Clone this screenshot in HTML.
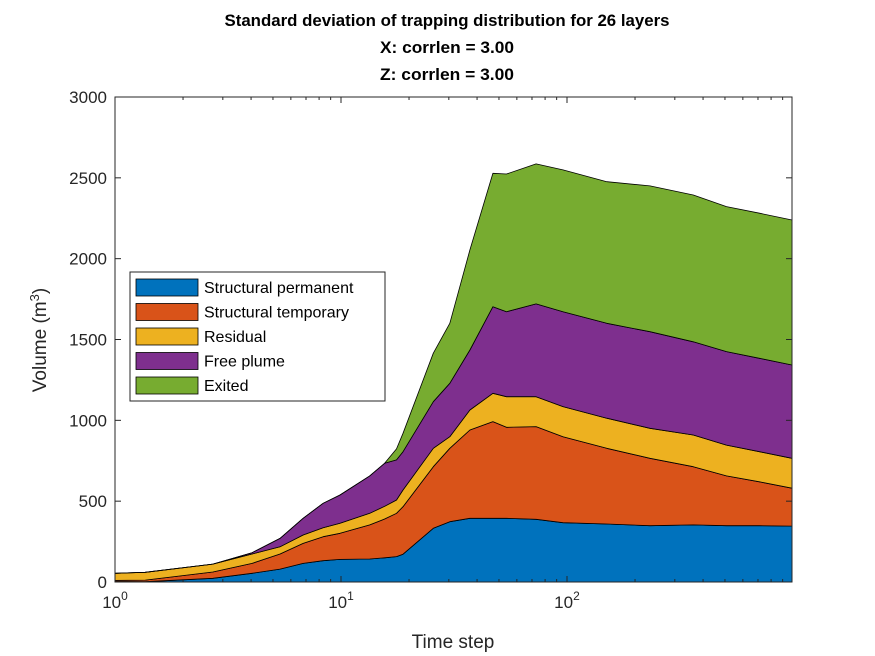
<!DOCTYPE html>
<html><head><meta charset="utf-8"><style>
body{margin:0;background:#fff}
svg{display:block;font-family:"Liberation Sans",Arial,sans-serif}
</style></head><body>
<svg id="chart" width="875" height="656" viewBox="0 0 875 656">
<rect width="875" height="656" fill="#fff"/>
<g font-weight="bold" font-size="17" text-anchor="middle" fill="#000">
<text x="447" y="26" textLength="445" lengthAdjust="spacingAndGlyphs">Standard deviation of trapping distribution for 26 layers</text>
<text x="447" y="53" textLength="134" lengthAdjust="spacingAndGlyphs">X: corrlen = 3.00</text>
<text x="447" y="80" textLength="134" lengthAdjust="spacingAndGlyphs">Z: corrlen = 3.00</text>
</g>
<g id="areas"></g>
<g id="axes"></g>
<text x="453" y="648" font-size="19" text-anchor="middle" fill="#262626">Time step</text>
<text transform="translate(46,340) rotate(-90)" font-size="19" text-anchor="middle" fill="#262626">Volume (m<tspan dy="-7" font-size="13">3</tspan><tspan dy="7">)</tspan></text>
<g id="legend"></g>
</svg>
<script>
const timeSteps = [1,1.36,2.71,4.04,5.37,6.8,8.33,9.9,13.4,15.6,17.6,18.8,25.6,30.3,37.2,47,54,73,96,150,233,362,508,711,990];
const structuralPermanent = [3,2,23,54,80,115,132,140,142,150,157,172,332,373,394,394,394,388,367,359,348,353,348,348,346];
const structuralTemporary = [7,10,39,61,93,124,148,161,211,240,268,294,381,454,546,598,563,573,532,468,417,360,308,272,234];
const residual = [44,48,49,58,45,52,56,62,72,78,82,103,114,72,124,175,189,185,186,186,186,196,191,186,185];
const freePlume = [0,0,0,8,52,103,151,175,231,266,248,237,288,330,371,536,526,574,587,587,597,577,578,578,577];
const exited = [0,0,0,0,0,0,0,0,0,0,68,114,300,371,619,825,852,866,877,876,902,908,897,897,897];
const seriesNames = ["Structural permanent","Structural temporary","Residual","Free plume","Exited"];
const seriesColors = ["#0072BD","#D95319","#EDB120","#7E2F8E","#77AC30"];
const yTicks = [0,500,1000,1500,2000,2500,3000];
const xTickExps = [0,1,2];

const NS="http://www.w3.org/2000/svg";
const L=115,R=792,T=97,B=582;
const xMin=0, xMax=Math.log10(990);
const xs=t=>L+(Math.log10(t)-xMin)/(xMax-xMin)*(R-L);
const ys=v=>B-v/3000*(B-T);
function mk(tag,attrs,parent){const e=document.createElementNS(NS,tag);for(const k in attrs)e.setAttribute(k,attrs[k]);parent.appendChild(e);return e;}

const series=[structuralPermanent,structuralTemporary,residual,freePlume,exited];
const areas=document.getElementById('areas');
let base=timeSteps.map(()=>0);
series.forEach((s,i)=>{
  const top=base.map((b,j)=>b+s[j]);
  let d='M'+timeSteps.map((t,j)=>xs(t).toFixed(1)+','+ys(top[j]).toFixed(1)).join('L');
  for(let j=timeSteps.length-1;j>=0;j--) d+='L'+xs(timeSteps[j]).toFixed(1)+','+ys(base[j]).toFixed(1);
  d+='Z';
  const p=mk('path',{d:d,fill:seriesColors[i],stroke:'#000','stroke-width':0.8,'stroke-linejoin':'round'},areas);
  
  
  base=top;
});

const ax=document.getElementById('axes');
const box=mk('rect',{x:L,y:T,width:R-L,height:B-T,fill:'none',stroke:'#262626','stroke-width':1},ax);


yTicks.forEach(v=>{
  const y=ys(v);
  mk('line',{x1:L,x2:L+6,y1:y,y2:y,stroke:'#262626'},ax);
  mk('line',{x1:R,x2:R-6,y1:y,y2:y,stroke:'#262626'},ax);
  const t=mk('text',{x:L-8,y:y+6,'font-size':17,'text-anchor':'end',fill:'#262626'},ax);
  t.textContent=v;
  
  
});
for(let e=0;e<3;e++){for(let m=1;m<10;m++){const t=m*Math.pow(10,e);if(t>990)break;const x=xs(t);const len=m===1?6:3;
  mk('line',{x1:x,x2:x,y1:B,y2:B-len,stroke:'#262626'},ax);
  mk('line',{x1:x,x2:x,y1:T,y2:T+len,stroke:'#262626'},ax);}}
xTickExps.forEach(e=>{
  const x=xs(Math.pow(10,e));
  const t=mk('text',{x:x,y:608,'font-size':17,'text-anchor':'middle',fill:'#262626'},ax);
  
  
  t.appendChild(document.createTextNode('10'));
  const sp=mk('tspan',{dy:-8,'font-size':12},t);sp.textContent=e;
});

const lg=document.getElementById('legend');
const lb=mk('rect',{x:130,y:272,width:255,height:129,fill:'#fff',stroke:'#262626','stroke-width':1},lg);


seriesNames.forEach((n,i)=>{
  const y=279+i*24.5;
  const g=mk('g',{},lg);
  
  
  mk('rect',{x:136,y:y,width:62,height:17,fill:seriesColors[i],stroke:'#000','stroke-width':0.8},g);
  const t=mk('text',{x:204,y:y+14,'font-size':16,fill:'#000'},g);t.textContent=n;
});
</script>
</body></html>
